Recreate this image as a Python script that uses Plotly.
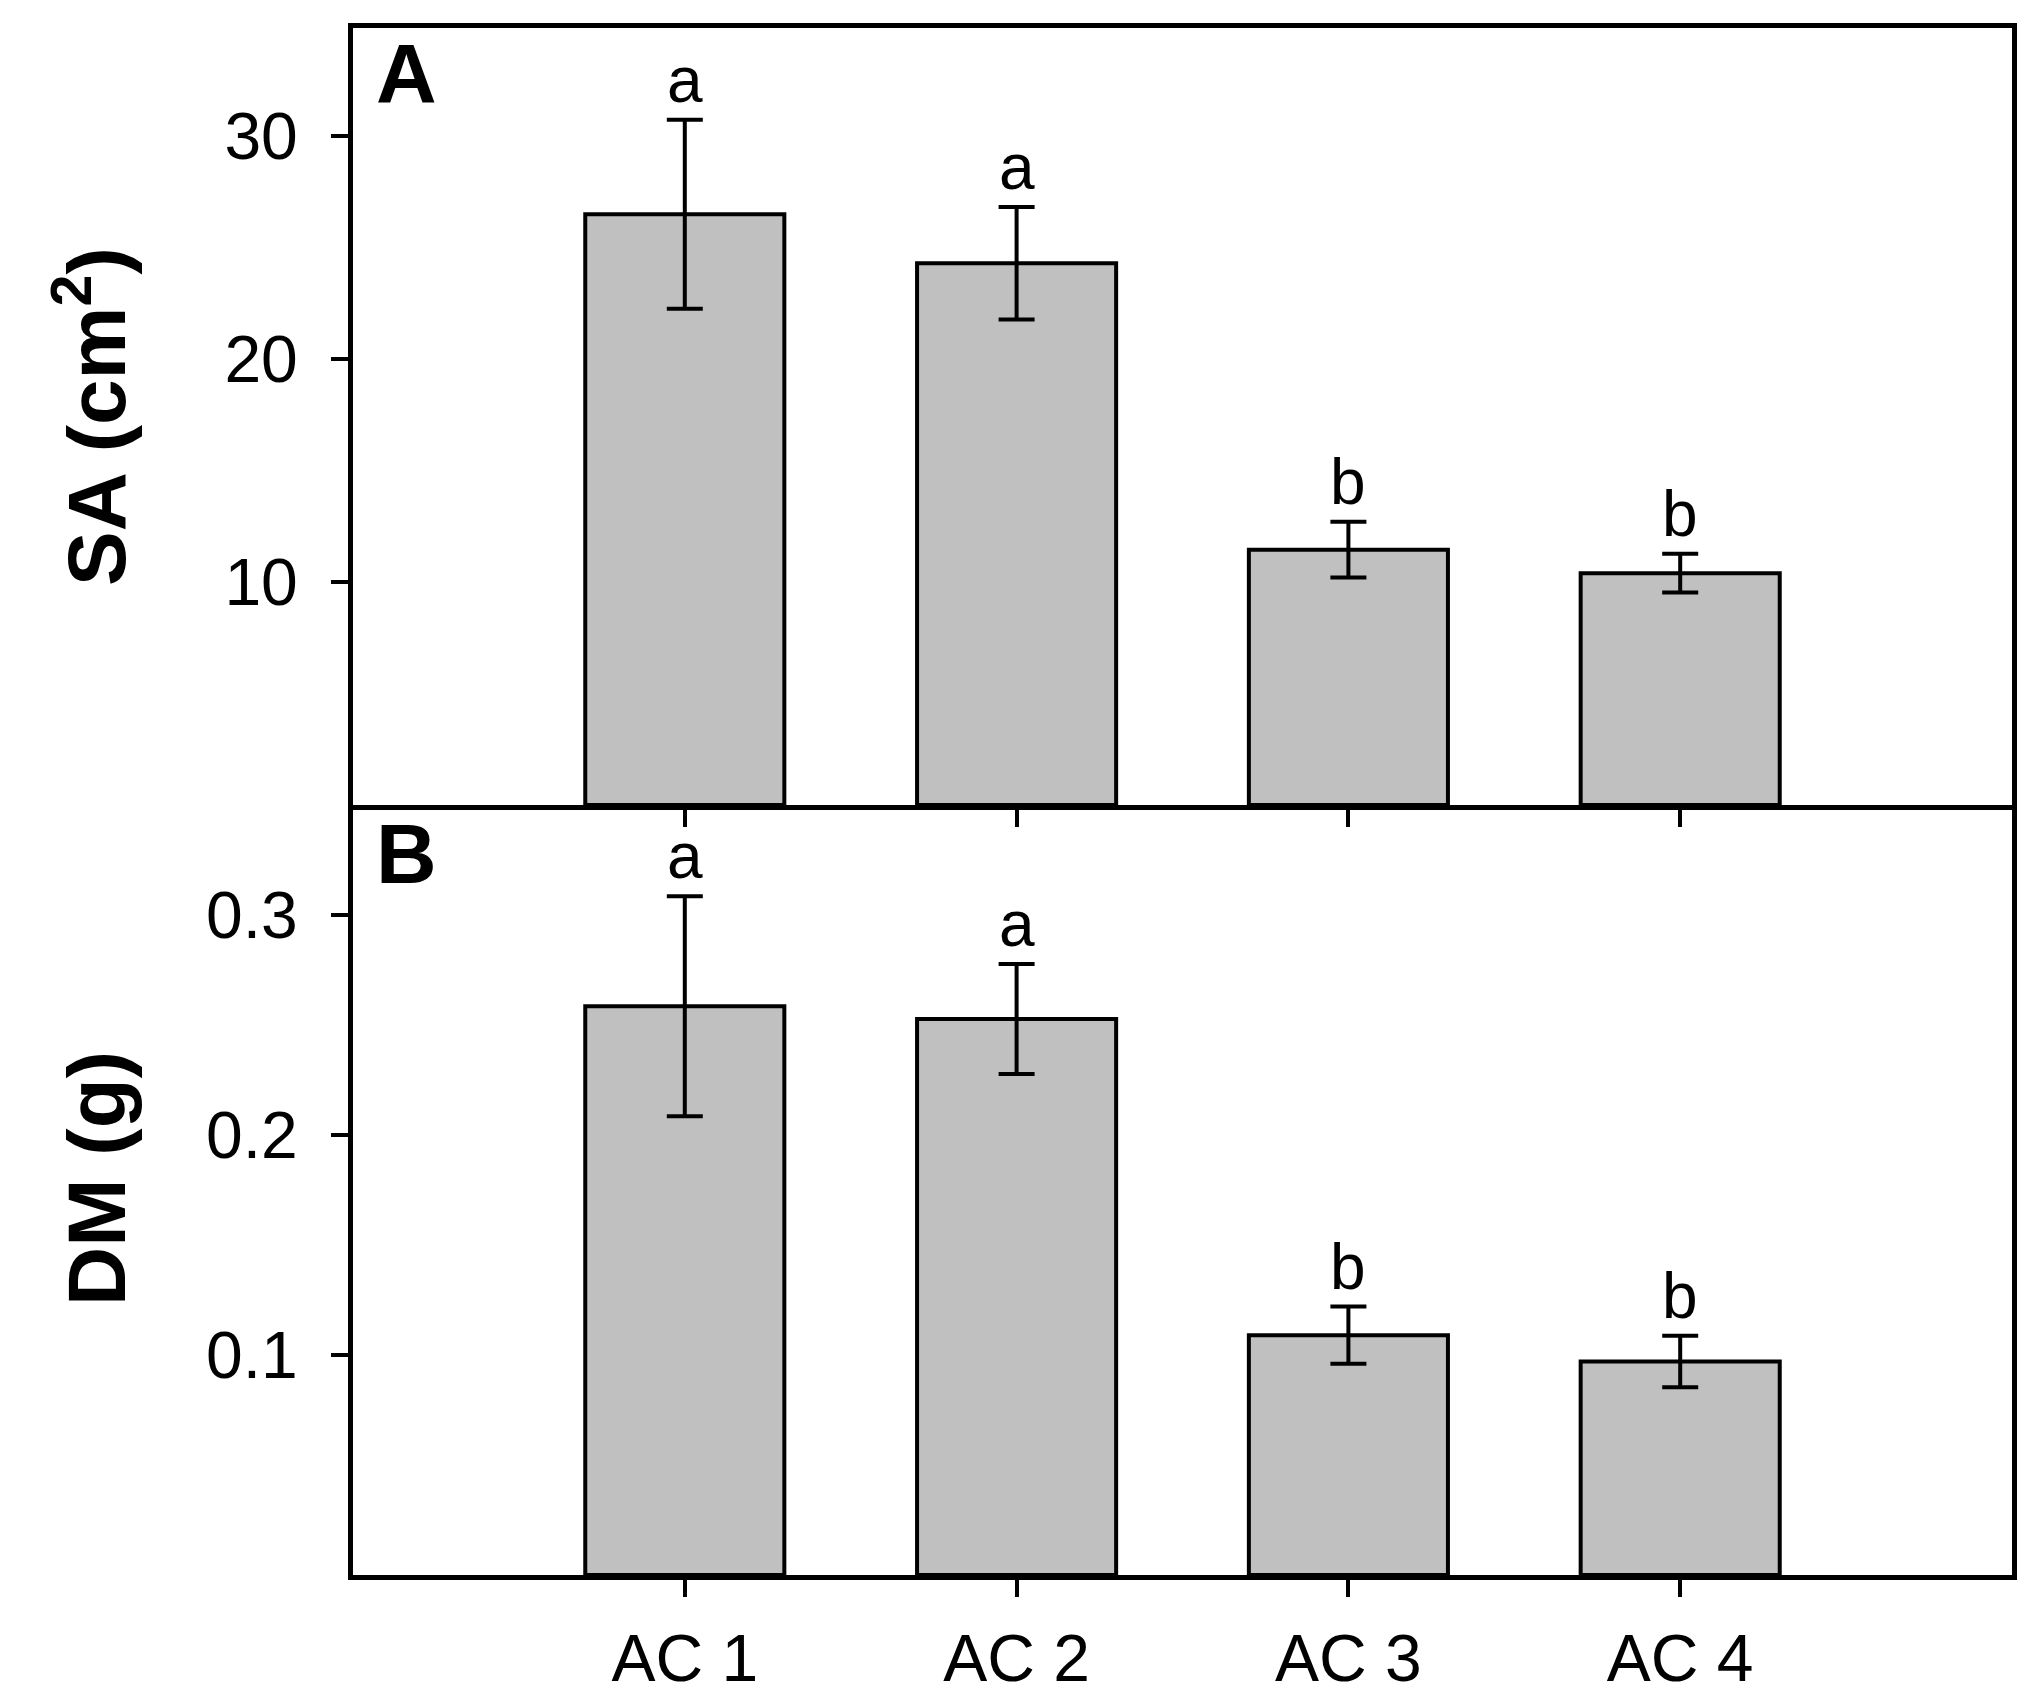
import plotly.graph_objects as go
from plotly.subplots import make_subplots

categories = ["AC 1", "AC 2", "AC 3", "AC 4"]
sa_mean = [26.5, 24.3, 11.45, 10.4]
sa_err = [4.24, 2.52, 1.25, 0.87]
sa_letters = ["a", "a", "b", "b"]
dm_mean = [0.2585, 0.2527, 0.109, 0.097]
dm_err = [0.050, 0.025, 0.013, 0.0117]
dm_letters = ["a", "a", "b", "b"]
sa_ticks = [10, 20, 30]
sa_ticktext = ["10", "20", "30"]
dm_ticks = [0.1, 0.2, 0.3]
dm_ticktext = ["0.1", "0.2", "0.3"]
sa_title = "<b>SA (cm<sup>2</sup>)</b>"
dm_title = "<b>DM (g)</b>"
panel_labels = ["<b>A</b>", "<b>B</b>"]

FONT = "Liberation Sans, Arial, sans-serif"
W, H = 2033, 1707
ML, MR, MT, MB = 345, 29, 20, 140
PW = W - ML - MR

fig = make_subplots(rows=2, cols=1, shared_xaxes=True, vertical_spacing=0,
                    row_heights=[777, 770])

bar_style = dict(marker=dict(color="#C0C0C0", line=dict(color="black", width=4)),
                 width=0.6, showlegend=False, hoverinfo="skip")

fig.add_trace(go.Bar(x=categories, y=sa_mean,
                     error_y=dict(type="data", array=sa_err, color="black",
                                  thickness=4, width=18),
                     **bar_style), row=1, col=1)
fig.add_trace(go.Bar(x=categories, y=dm_mean,
                     error_y=dict(type="data", array=dm_err, color="black",
                                  thickness=4, width=18),
                     **bar_style), row=2, col=1)

axis_common = dict(showline=True, linecolor="black", linewidth=5, mirror=True,
                   ticks="outside", ticklen=17, tickwidth=4, tickcolor="black",
                   showgrid=False, zeroline=False,
                   tickfont=dict(family=FONT, size=66, color="black"))

fig.update_xaxes(**axis_common, range=[-1, 4], ticklabelstandoff=5)
fig.update_xaxes(showticklabels=False, row=1, col=1)
fig.update_xaxes(mirror=False, row=2, col=1)
fig.update_yaxes(**axis_common, ticklabelstandoff=20)
fig.update_yaxes(range=[0, 34.85], tickvals=sa_ticks, ticktext=sa_ticktext, row=1, col=1)
fig.update_yaxes(range=[0, 0.35], tickvals=dm_ticks, ticktext=dm_ticktext, row=2, col=1)

annotations = []
# significance letters
for cat, m, e, t in zip(categories, sa_mean, sa_err, sa_letters):
    annotations.append(dict(x=cat, y=m + e, xref="x", yref="y", text=t,
                            showarrow=False, yanchor="bottom", yshift=2,
                            font=dict(family=FONT, size=64, color="black")))
for cat, m, e, t in zip(categories, dm_mean, dm_err, dm_letters):
    annotations.append(dict(x=cat, y=m + e, xref="x2", yref="y2", text=t,
                            showarrow=False, yanchor="bottom", yshift=2,
                            font=dict(family=FONT, size=64, color="black")))
# panel labels
annotations.append(dict(x=(366 - ML) / PW, y=1.004, xref="x domain", yref="y domain",
                        text=panel_labels[0], showarrow=False, xanchor="left", yanchor="top",
                        font=dict(family=FONT, size=84, color="black")))
annotations.append(dict(x=(366 - ML) / PW, y=1.0, xref="x2 domain", yref="y2 domain",
                        text=panel_labels[1], showarrow=False, xanchor="left", yanchor="top",
                        font=dict(family=FONT, size=84, color="black")))
# axis titles
tx = (136 - ML) / PW
annotations.append(dict(x=tx, y=0.5, xref="paper", yref="y domain", text=sa_title,
                        showarrow=False, textangle=-90, xanchor="right", yanchor="middle",
                        font=dict(family=FONT, size=82, color="black")))
annotations.append(dict(x=tx, y=0.515, xref="paper", yref="y2 domain", text=dm_title,
                        showarrow=False, textangle=-90, xanchor="right", yanchor="middle",
                        font=dict(family=FONT, size=82, color="black")))

fig.update_layout(width=W, height=H, margin=dict(l=ML, r=MR, t=MT, b=MB, autoexpand=False),
                  paper_bgcolor="white", plot_bgcolor="white",
                  bargap=0.4, annotations=annotations,
                  font=dict(family=FONT, color="black"))

fig.write_html("out.html")
